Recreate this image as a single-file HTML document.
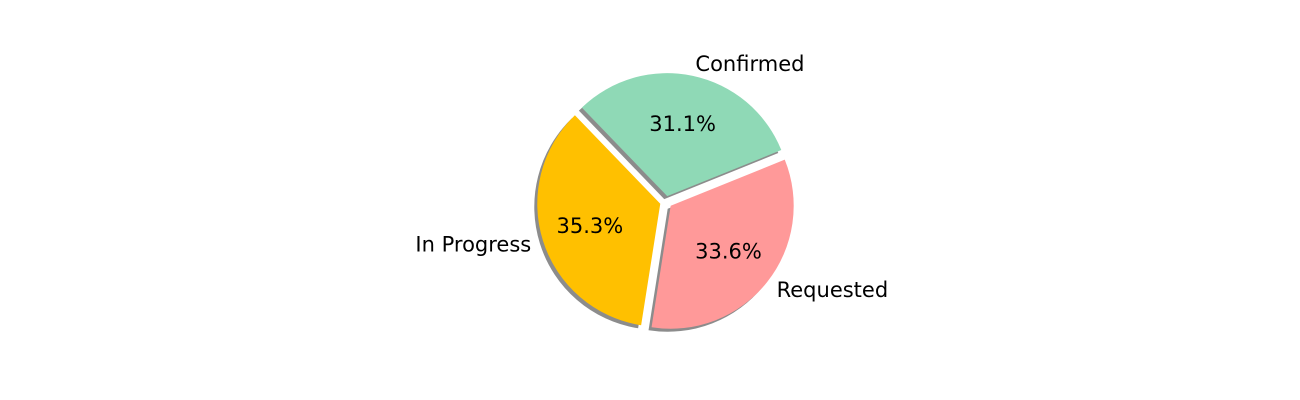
<!DOCTYPE html>
<html><head><meta charset="utf-8"><style>
body{margin:0;background:#fff;}
svg{display:block;font-family:"DejaVu Sans","Liberation Sans",sans-serif;}
</style></head><body>
<svg id="chart" width="1300" height="400"></svg>
<script>
const categories = ["Confirmed", "In Progress", "Requested"];
const values = [31.1, 35.3, 33.6];
const colors = ["#8fd9b6", "#ffc000", "#ff9999"];
const NS = "http://www.w3.org/2000/svg";
const svg = document.getElementById("chart");
const cx = 666, cy = 202, r = 123, explode = 6, startAngle = 22;
const total = values.reduce((a,b)=>a+b,0);
function pt(x,y,ang,rad){const a=ang*Math.PI/180;return [x+rad*Math.cos(a), y-rad*Math.sin(a)];}
function arcPath(x,y,a0,a1){
  const p0=pt(x,y,a0,r), p1=pt(x,y,a1,r);
  const large=(a1-a0)>180?1:0;
  return `M${x},${y} L${p0[0]},${p0[1]} A${r},${r} 0 ${large} 0 ${p1[0]},${p1[1]} Z`;
}
let ang = startAngle;
const slices = [];
values.forEach((v,i)=>{
  const span = v/total*360, mid = ang+span/2;
  const [ox,oy] = pt(cx,cy,mid,explode);
  slices.push({a0:ang,a1:ang+span,mid,ox,oy,i});
  ang += span;
});
slices.forEach(s=>{
  const sh=document.createElementNS(NS,"path");
  sh.setAttribute("d",arcPath(s.ox-3,s.oy+3,s.a0,s.a1));
  sh.setAttribute("fill","rgba(0,0,0,0.45)");
  
  
  svg.appendChild(sh);
});
slices.forEach(s=>{
  const p=document.createElementNS(NS,"path");
  p.setAttribute("d",arcPath(s.ox,s.oy,s.a0,s.a1));
  p.setAttribute("fill",colors[s.i]);
  
  
  svg.appendChild(p);
});
slices.forEach(s=>{
  const [lx,ly]=pt(s.ox,s.oy,s.mid,r*1.1);
  const t=document.createElementNS(NS,"text");
  t.setAttribute("x",lx);t.setAttribute("y",ly);
  t.setAttribute("font-size","21");t.setAttribute("dominant-baseline","central");
  t.setAttribute("text-anchor",Math.cos(s.mid*Math.PI/180)>=0?"start":"end");
  t.textContent=categories[s.i];
  
  
  svg.appendChild(t);
  const [px,py]=pt(s.ox,s.oy,s.mid,r*0.6);
  const u=document.createElementNS(NS,"text");
  u.setAttribute("x",px);u.setAttribute("y",py);
  u.setAttribute("font-size","21");u.setAttribute("dominant-baseline","central");
  u.setAttribute("text-anchor","middle");
  u.textContent=values[s.i].toFixed(1)+"%";
  
  
  svg.appendChild(u);
});
</script>
</body></html>
